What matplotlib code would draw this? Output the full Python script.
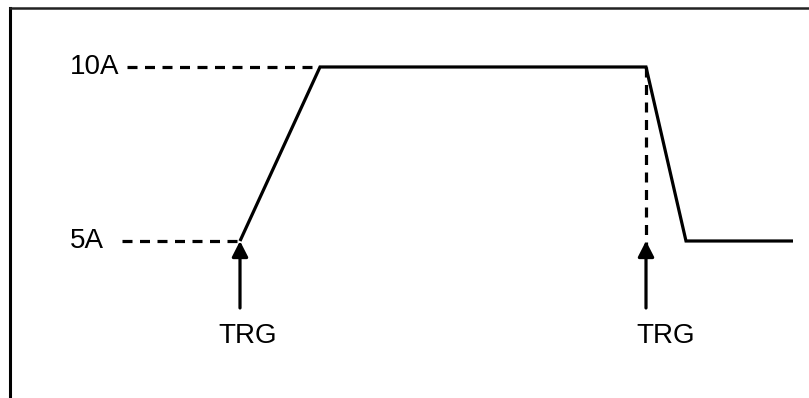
import matplotlib
matplotlib.use("Agg")
import matplotlib.pyplot as plt

plt.rcParams['font.family'] = ['Liberation Sans', 'DejaVu Sans']
plt.rcParams['lines.scale_dashes'] = False

# Waveform data (time in arbitrary units, current in A)
times = [0, 8, 40.6, 44.6, 55.3]
current = [5, 10, 10, 5, 5]
level_values = [5, 10]
level_labels = ['5A', '10A']
level_dash_start = [-11.8, -11.3]
level_dash_end = [0, 8]
trig_times = [0, 40.6]
trig_label = 'TRG'

W, H = 809, 398
fig = plt.figure(figsize=(W / 100, H / 100), dpi=100)
ax = fig.add_axes([10 / W, 0, 1 - 10 / W, 1 - 8 / H])
ax.set_xlim(-23, 56.9)
ax.set_ylim(0.4885, 11.695)
ax.set_xticks([])
ax.set_yticks([])
for s in ['right', 'bottom']:
    ax.spines[s].set_visible(False)
ax.spines['left'].set_linewidth(2.2)
ax.spines['top'].set_linewidth(1.8)
ax.spines['top'].set_color('#222222')

lw = 2.3
dash = (0, (7.2, 5.4))

# reference dashed levels
for v, x0, x1 in zip(level_values, level_dash_start, level_dash_end):
    ax.plot([x0, x1], [v, v], color='black', lw=lw, linestyle=dash, dash_capstyle='butt')

# vertical dashed line at second trigger
ax.plot([trig_times[1], trig_times[1]], [current[2], current[3] - 0.3], color='black', lw=lw,
        linestyle=dash, dash_capstyle='butt')

# waveform
ax.plot(times, current, color='black', lw=lw, solid_joinstyle='miter', solid_capstyle='butt')

# level labels
for v, lab in zip(level_values, level_labels):
    ax.text(-17, v, lab, ha='left', va='center', fontsize=20, color='black')

# trigger arrows
trig_text_x = [0.75, 42.6]
for t, tx in zip(trig_times, trig_text_x):
    ax.annotate('', xy=(t, 5.0), xytext=(t, 3.075),
                arrowprops=dict(arrowstyle='-|>,head_length=0.47,head_width=0.24',
                                mutation_scale=20, color='black', lw=lw,
                                shrinkA=0, shrinkB=0))
    ax.text(tx, 2.284, trig_label, ha='center', va='center', fontsize=20, color='black')

fig.savefig('out.png', dpi=100)
